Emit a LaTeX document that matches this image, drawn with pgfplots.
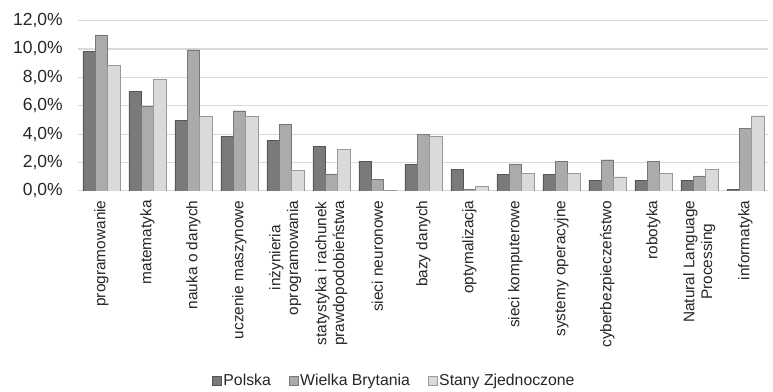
\documentclass[border=0pt]{standalone}
\usepackage{pgfplots}
\pgfplotsset{compat=1.18}
\usepackage{fontspec}
\setmainfont{Liberation Sans}
\definecolor{cP}{HTML}{7A7A7A}
\definecolor{cW}{HTML}{ABABAB}
\definecolor{cU}{HTML}{DADADA}
\definecolor{gridc}{HTML}{D9D9D9}
\definecolor{txt}{HTML}{262626}
\begin{document}
\begin{tikzpicture}
\begin{axis}[
  scale only axis, width=690pt, height=170.3pt,
  ybar=0pt, bar width=12.3pt,
  xmin=-0.5, xmax=14.5, ymin=0, ymax=12,
  ytick={0,2,...,12},
  /pgf/number format/assume math mode=true,
  yticklabel={\pgfmathprintnumber[fixed,fixed zerofill,precision=1,use comma]{\tick}\%},
  yticklabel style={font=\fontsize{17.5}{19}\selectfont, text=txt, xshift=-12pt},
  xtick=data,
  xticklabels={programowanie, matematyka, nauka o danych, uczenie maszynowe, {inżynieria\\oprogramowania}, {statystyka i rachunek\\prawdopodobieństwa}, sieci neuronowe, bazy danych, optymalizacja, sieci komputerowe, systemy operacyjne, cyberbezpieczeństwo, robotyka, {Natural Language\\Processing}, informatyka},
  xticklabel style={rotate=90, anchor=east, align=center, font=\fontsize{15.4}{17.8}\selectfont, text=txt, xshift=-6pt},
  major tick length=0pt,
  axis line style={draw=none},
  ymajorgrids, grid style={gridc, line width=1.2pt},
  legend style={draw=none, at={(0.458,-1.116)}, anchor=center, legend columns=3,
    font=\fontsize{15.8}{17}\selectfont, text=txt,
    /tikz/every odd column/.append style={column sep=0pt},
    /tikz/every even column/.append style={column sep=16pt}},
  legend image code/.code={\fill[#1] (-4pt,-4.5pt) rectangle (5pt,4.5pt);},
]
\coordinate (bl) at (rel axis cs:0,0);
\coordinate (tr) at (rel axis cs:1,1);
\addplot[fill=cP, draw=cP!70!black, line width=0.3pt] coordinates {
(0,9.85) (1,7.0) (2,4.95) (3,3.85) (4,3.55) (5,3.15) (6,2.1) (7,1.85) (8,1.5) (9,1.15) (10,1.15) (11,0.75) (12,0.75) (13,0.75) (14,0.1)};
\addplot[fill=cW, draw=cW!70!black, line width=0.3pt] coordinates {
(0,11.0) (1,5.95) (2,9.95) (3,5.65) (4,4.7) (5,1.2) (6,0.8) (7,4.0) (8,0.1) (9,1.9) (10,2.1) (11,2.2) (12,2.1) (13,1.05) (14,4.4)};
\addplot[fill=cU, draw=cU!70!black, line width=0.3pt] coordinates {
(0,8.85) (1,7.85) (2,5.25) (3,5.25) (4,1.45) (5,2.95) (6,0.05) (7,3.85) (8,0.3) (9,1.25) (10,1.25) (11,1.0) (12,1.25) (13,1.5) (14,5.3)};
\legend{Polska, Wielka Brytania, Stany Zjednoczone}
\end{axis}
\pgfresetboundingbox
\path ([shift={(-78.3pt,-201.1pt)}]bl) rectangle ([shift={(4.7pt,20.6pt)}]tr);
\end{tikzpicture}
\end{document}
